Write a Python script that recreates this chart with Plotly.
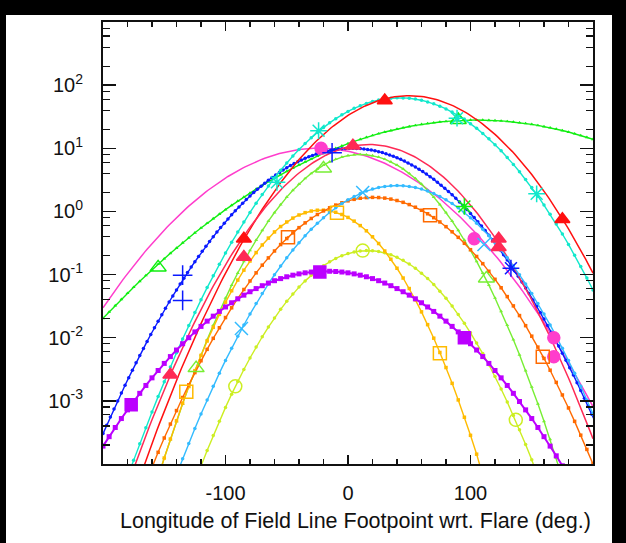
import numpy as np
import plotly.graph_objects as go

# ---- Gaussian fit curves (peak value, centre longitude, width in deg)
curve_names  = ["pink", "green_wide", "blue", "cyan", "red", "crimson", "lime",
                "yellowgreen", "gold", "orange", "skyblue", "purple"]
curve_peak   = [10.0, 28.0, 10.0, 63.0, 68.0, 11.5, 8.0, 0.24, 1.05, 1.67, 2.57, 0.113]
curve_center = [-24, 105, 3, 42, 50, 17, 10, 16, -22, 20.5, 40, -17.5]
curve_sigma  = [51.6, 80.2, 44.5, 42.2, 41.7, 39.5, 34.0, 34.3, 30.1, 40.7, 39.2, 51.1]

obs_x = {
    "pink":        [-22, 103, 168, 168],
    "green_wide":  [-155, 90],
    "blue":        [-135, -135, -13],
    "blue_star":   [133],
    "green_star":  [95],
    "cyan":        [-24, -58, 89, 154],
    "red":         [30, 175, -85],
    "crimson":     [4, -85, 123, 123, -145],
    "lime":        [-20, 113, -124],
    "yellowgreen": [12, -92, 137],
    "gold":        [-9, 75, -132],
    "orange":      [-49, 67, 159],
    "skyblue":     [-87, 12, 111],
    "purple":      [-23, 95, -177],
}
obs_y = {
    "pink":        [10.0, 0.37, 0.010, 0.005],
    "green_wide":  [0.13, 28.0],
    "blue":        [0.098, 0.039, 8.5],
    "blue_star":   [0.126],
    "green_star":  [1.2],
    "cyan":        [19.0, 2.9, 30.0, 1.9],
    "red":         [57.0, 0.75, 0.37],
    "crimson":     [11.0, 0.19, 0.37, 0.27, 0.0026],
    "lime":        [4.8, 0.087, 0.0033],
    "yellowgreen": [0.24, 0.0017, 0.0005],
    "gold":        [0.95, 0.0057, 0.0014],
    "orange":      [0.39, 0.87, 0.005],
    "skyblue":     [0.014, 2.0, 0.3],
    "purple":      [0.11, 0.010, 0.00087],
}

x_ticks = [-100, 0, 100]
x_tick_labels = ["-100", "0", "100"]
y_ticks = [1e-3, 1e-2, 1e-1, 1e0, 1e1, 1e2]
y_tick_labels = ["10<sup>-3</sup>", "10<sup>-2</sup>", "10<sup>-1</sup>",
                 "10<sup>0</sup>", "10<sup>1</sup>", "10<sup>2</sup>"]
x_title = "Longitude of Field Line Footpoint wrt. Flare (deg.)"

# ---- styles
style = {
    "pink":        dict(color="#ff3dcc", small=None, big="circle", big_size=12),
    "green_wide":  dict(color="#11ee11", small="triangle-up", big="triangle-up-open", big_size=14),
    "blue":        dict(color="#0a1aff", small="circle", big="cross-thin-open", big_size=14),
    "cyan":        dict(color="#11e8cc", small="circle", big="asterisk-open", big_size=14),
    "red":         dict(color="#ff1010", small=None, big="triangle-up", big_size=13),
    "crimson":     dict(color="#ff2a55", small=None, big="triangle-up", big_size=13),
    "lime":        dict(color="#77ee33", small="triangle-up", big="triangle-up-open", big_size=14),
    "yellowgreen": dict(color="#ccee22", small="circle", big="circle-open", big_size=13),
    "gold":        dict(color="#ffbb00", small="square", big="square-open", big_size=13),
    "orange":      dict(color="#ff6a00", small="square", big="square-open-dot", big_size=13),
    "skyblue":     dict(color="#33bbff", small="circle", big="x-thin-open", big_size=13),
    "purple":      dict(color="#bb00ff", small="square", big="square", big_size=12),
}
extra_obs_style = {
    "blue_star":  dict(color="#0a1aff", big="asterisk-open", big_size=14),
    "green_star": dict(color="#11ee11", big="asterisk-open", big_size=14),
}

fig = go.Figure()

for name, peak, cen, sig in zip(curve_names, curve_peak, curve_center, curve_sigma):
    st = style[name]
    if st["small"] is None:
        step = 2
    elif name == "blue":
        step = 3
    else:
        step = 5
    xs = np.arange(-200, 200 + step, step, dtype=float)
    ys = peak * np.exp(-(xs - cen) ** 2 / (2 * sig ** 2))
    if st["small"] is None:
        fig.add_trace(go.Scatter(x=xs, y=ys, mode="lines",
                                 line=dict(color=st["color"], width=1.5),
                                 hoverinfo="skip"))
    else:
        msize = 5 if name == "purple" else 3.5
        lw = 2 if name == "purple" else 1.4
        fig.add_trace(go.Scatter(x=xs, y=ys, mode="lines+markers",
                                 line=dict(color=st["color"], width=lw),
                                 marker=dict(symbol=st["small"], size=msize,
                                             color=st["color"], line=dict(width=0)),
                                 hoverinfo="skip"))

for name in obs_x:
    if name in style:
        st = style[name]
    else:
        st = extra_obs_style[name]
    col, sym, sz = st["color"], st["big"], st["big_size"]
    fig.add_trace(go.Scatter(x=obs_x[name], y=obs_y[name], mode="markers",
                             marker=dict(symbol=sym, size=sz, color=col,
                                         line=dict(color=col, width=1.5)),
                             hoverinfo="skip"))

# minor log ticks at 2,4,6,8 per decade
y_minor = [m * 10.0 ** k for k in range(-4, 3) for m in (2, 4, 6, 8)]

W, H = 626, 543
L, R, T, B = 103, 33, 22, 79
pw, ph = W - L - R, H - T - B

def px_to_paper_x(px):
    return (px - L) / pw

def py_to_paper_y(py):
    return (H - B - py) / ph

# white page inside a black frame
fig.add_shape(type="rect", xref="paper", yref="paper",
              x0=px_to_paper_x(6), x1=px_to_paper_x(612),
              y0=py_to_paper_y(543), y1=py_to_paper_y(15),
              fillcolor="white", line=dict(width=0), layer="below")

fig.add_annotation(text=x_title, xref="paper", yref="paper",
                   x=px_to_paper_x(355), y=py_to_paper_y(521), showarrow=False,
                   xanchor="center", yanchor="middle",
                   font=dict(family="Liberation Sans", size=21.5, color="#111"))

fig.update_layout(
    width=W, height=H,
    margin=dict(l=L, r=R, t=T, b=B),
    paper_bgcolor="black",
    plot_bgcolor="white",
    showlegend=False,
    font=dict(family="Liberation Sans", color="#111"),
    xaxis=dict(range=[-200, 200], tickmode="array", tickvals=x_ticks,
               ticktext=x_tick_labels, ticks="inside", ticklen=9, tickwidth=1.5,
               tickcolor="#111", showline=True, linecolor="#111", linewidth=2,
               mirror="ticks", showgrid=False, zeroline=False,
               tickfont=dict(size=20, color="#111"), ticklabelstandoff=10,
               minor=dict(ticks="inside", dtick=20, tick0=0, ticklen=5,
                          tickwidth=1.2, tickcolor="#111", showgrid=False)),
    yaxis=dict(type="log", range=[-4, 3], tickmode="array", tickvals=y_ticks,
               ticktext=y_tick_labels, ticks="inside", ticklen=13, tickwidth=1.5,
               tickcolor="#111", showline=True, linecolor="#111", linewidth=2,
               mirror="ticks", showgrid=False, zeroline=False,
               tickfont=dict(size=20, color="#111"), ticklabelstandoff=14,
               minor=dict(ticks="inside", tickmode="array", tickvals=y_minor,
                          ticklen=7, tickwidth=1.2, tickcolor="#111",
                          showgrid=False)),
)

fig.write_html("out.html",
               config={"displayModeBar": False, "staticPlot": True},
               post_script="document.body.style.margin='0px';"
                           "document.body.style.overflow='hidden';")
